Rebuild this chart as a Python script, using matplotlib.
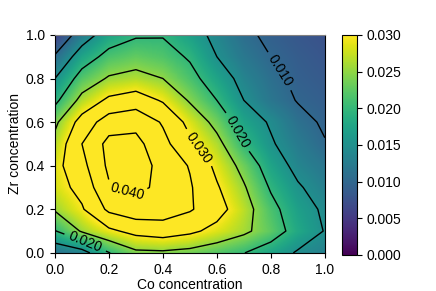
import numpy as np
import matplotlib
matplotlib.use('Agg')
import matplotlib.pyplot as plt

plt.rcParams['font.family'] = ['Liberation Sans', 'DejaVu Sans']
plt.rcParams['font.size'] = 10

# grid of compositions
co_conc = [0.0, 0.1, 0.2, 0.3, 0.4, 0.5, 0.6, 0.7, 0.8, 0.9, 1.0]
zr_conc = [0.0, 0.1, 0.2, 0.3, 0.4, 0.5, 0.6, 0.7, 0.8, 0.9, 1.0]

# value, one row per Zr concentration (Zr = 0.0 first)
values = [
    [0.0112, 0.0130, 0.0198, 0.0240, 0.0242, 0.0235, 0.0220, 0.0201, 0.0175, 0.0145, 0.0130],
    [0.0197, 0.0255, 0.0290, 0.0315, 0.0325, 0.0310, 0.0285, 0.0260, 0.0225, 0.0180, 0.0148],
    [0.0255, 0.0295, 0.0360, 0.0380, 0.0375, 0.0355, 0.0320, 0.0270, 0.0215, 0.0170, 0.0143],
    [0.0280, 0.0315, 0.0395, 0.0410, 0.0390, 0.0355, 0.0305, 0.0255, 0.0195, 0.0155, 0.0130],
    [0.0285, 0.0335, 0.0410, 0.0430, 0.0380, 0.0347, 0.0288, 0.0234, 0.0175, 0.0137, 0.0118],
    [0.0265, 0.0350, 0.0415, 0.0415, 0.0365, 0.0310, 0.0265, 0.0200, 0.0155, 0.0125, 0.0102],
    [0.0240, 0.0320, 0.0375, 0.0385, 0.0345, 0.0285, 0.0235, 0.0175, 0.0145, 0.0112, 0.0095],
    [0.0188, 0.0265, 0.0310, 0.0325, 0.0295, 0.0245, 0.0200, 0.0150, 0.0118, 0.0098, 0.0090],
    [0.0150, 0.0220, 0.0255, 0.0265, 0.0250, 0.0215, 0.0175, 0.0135, 0.0110, 0.0092, 0.0085],
    [0.0105, 0.0175, 0.0215, 0.0228, 0.0218, 0.0195, 0.0150, 0.0120, 0.0100, 0.0088, 0.0080],
    [0.0055, 0.0125, 0.0175, 0.0195, 0.0197, 0.0170, 0.0138, 0.0108, 0.0092, 0.0082, 0.0075],
]
Z = np.array(values)

labelled_levels = [0.010, 0.020, 0.030, 0.040]
plain_levels = [0.005, 0.015, 0.025, 0.035, 0.045]

fig = plt.figure(figsize=(4.36, 2.91), dpi=100)
ax = fig.add_axes([0.126, 0.131, 0.619, 0.749])

im = ax.imshow(Z, origin='lower', extent=[-0.05, 1.05, -0.05, 1.05],
               cmap='viridis', vmin=0, vmax=0.03, interpolation='bilinear',
               aspect='auto')
ax.set_xlim(0, 1)
ax.set_ylim(0, 1)

ax.contour(co_conc, zr_conc, Z, levels=plain_levels, colors='k', linewidths=1)
cs = ax.contour(co_conc, zr_conc, Z, levels=labelled_levels, colors='k', linewidths=1)
ax.clabel(cs, fmt='%.3f', fontsize=10,
          manual=[(0.84, 0.84), (0.67, 0.55), (0.53, 0.48), (0.28, 0.32), (0.12, 0.07)])

ax.set_xticks([0.0, 0.2, 0.4, 0.6, 0.8, 1.0])
ax.set_yticks([0.0, 0.2, 0.4, 0.6, 0.8, 1.0])
ax.set_xlabel('Co concentration', labelpad=1)
ax.set_ylabel('Zr concentration', labelpad=3)
ax.spines['top'].set_color('#808080')

cax = fig.add_axes([0.784, 0.124, 0.0344, 0.756])
cb = fig.colorbar(im, cax=cax, ticks=[0.0, 0.005, 0.010, 0.015, 0.020, 0.025, 0.030])
cb.ax.set_yticklabels(['0.000', '0.005', '0.010', '0.015', '0.020', '0.025', '0.030'])

fig.savefig('out.png', dpi=100)
